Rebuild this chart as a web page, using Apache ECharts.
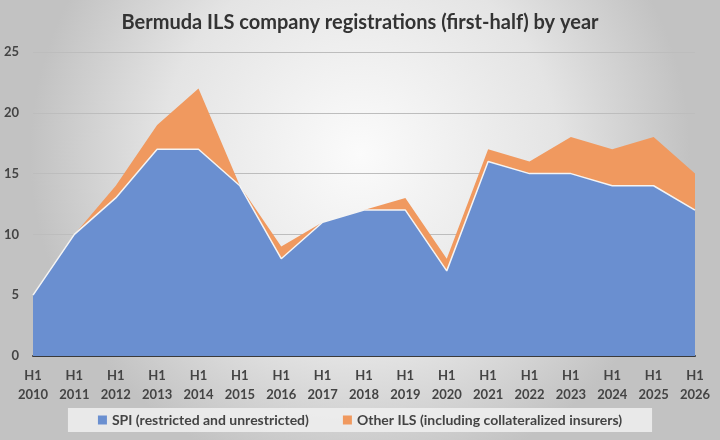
<!DOCTYPE html>
<html>
<head>
<meta charset="utf-8">
<script src="https://cdn.jsdelivr.net/npm/echarts@6/dist/echarts.min.js"></script>
<style>
  html, body { margin: 0; padding: 0; }
  #chart { width: 720px; height: 440px; }
</style>
</head>
<body>
<div id="chart"></div>
<script>
// years shown on the axis (first half of each year)
const years = ['2010', '2011', '2012', '2013', '2014', '2015', '2016', '2017', '2018',
  '2019', '2020', '2021', '2022', '2023', '2024', '2025', '2026'];
const spi = [5, 10, 13, 17, 17, 14, 8, 11, 12, 12, 7, 16, 15, 15, 14, 14, 12];
const otherIls = [0, 0, 1, 2, 5, 0, 1, 0, 0, 1, 1, 1, 1, 3, 3, 4, 3];

const categories = years.map(y => 'H1\n' + y);
const fontFam = 'Lato, "Open Sans", sans-serif';

let chart = echarts.init(document.getElementById('chart'));

chart.setOption({
    backgroundColor: {
        type: 'radial', x: 0.5, y: 0.35, r: 0.75,
        colorStops: [
            { offset: 0, color: '#fbfbfb' },
            { offset: 0.6, color: '#e4e4e4' },
            { offset: 1, color: '#c2c2c2' }
        ]
    },
    animation: false,
    title: {
        text: 'Bermuda ILS company registrations (first-half) by year',
        left: 'center',
        top: 8,
        textStyle: { fontFamily: fontFam, fontSize: 20, fontWeight: 'bold', color: '#333' }
    },
    grid: { left: 33, right: 25, top: 52, bottom: 84, outerBoundsMode: 'none' },
    legend: {
        bottom: 8,
        left: 'center',
        itemWidth: 9,
        itemHeight: 9,
        itemGap: 34,
        padding: [5, 30, 5, 30],
        backgroundColor: 'rgba(240,240,240,0.85)',
        icon: 'rect',
        textStyle: { fontFamily: fontFam, fontSize: 14, fontWeight: 'bold', color: '#444' },
        data: ['SPI (restricted and unrestricted)', 'Other ILS (including collateralized insurers)']
    },
    xAxis: {
        type: 'category',
        boundaryGap: false,
        data: categories,
        axisLine: { lineStyle: { color: '#3a3a3a', width: 2 } },
        axisTick: { show: false },
        axisLabel: {
            fontFamily: fontFam, fontSize: 13, fontWeight: 'bold', color: '#444',
            lineHeight: 19, margin: 10, interval: 0
        }
    },
    yAxis: {
        type: 'value',
        min: 0,
        max: 25,
        interval: 5,
        axisLine: { show: false },
        axisTick: { show: false },
        splitLine: { lineStyle: { color: '#bdbdbd', width: 1 } },
        axisLabel: {
            fontFamily: fontFam, fontSize: 13, fontWeight: 'bold', color: '#444', margin: 14
        }
    },
    series: [
        {
            name: 'SPI (restricted and unrestricted)',
            type: 'line',
            stack: 'total',
            data: spi,
            symbol: 'none',
            color: '#6a8fd0',
            lineStyle: { color: '#f4f4f4', width: 1.5 },
            areaStyle: { color: '#6a8fd0', opacity: 1 },
            z: 3
        },
        {
            name: 'Other ILS (including collateralized insurers)',
            type: 'line',
            stack: 'total',
            data: otherIls,
            symbol: 'none',
            color: '#f0995f',
            lineStyle: { width: 0 },
            areaStyle: { color: '#f0995f', opacity: 1 },
            z: 2
        }
    ]
});
</script>
</body>
</html>
